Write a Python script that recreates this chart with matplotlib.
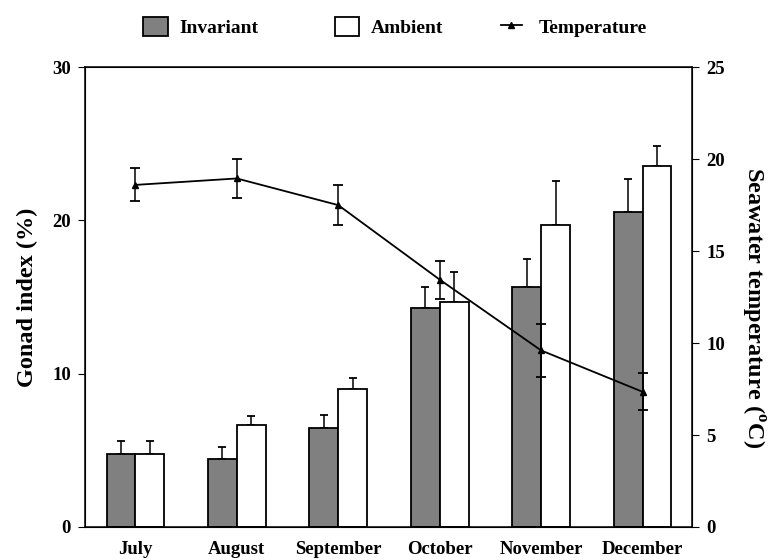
import matplotlib
matplotlib.use("Agg")
import matplotlib.pyplot as plt
import numpy as np
from matplotlib.patches import Patch
from matplotlib.lines import Line2D

months = ["July", "August", "September", "October", "November", "December"]
invariant = [4.76, 4.43, 6.43, 14.26, 15.65, 20.55]
invariant_err = [0.87, 0.79, 0.90, 1.37, 1.85, 2.15]
ambient = [4.76, 6.63, 9.00, 14.65, 19.70, 23.55]
ambient_err = [0.87, 0.61, 0.70, 1.98, 2.90, 1.32]
temperature = [18.6, 18.95, 17.5, 13.45, 9.6, 7.35]
temperature_err = [0.9, 1.05, 1.1, 1.03, 1.43, 1.0]
legend_labels = ["Invariant", "Ambient", "Temperature"]

plt.rcParams['font.family'] = ['Liberation Serif', 'DejaVu Serif']
plt.rcParams['font.weight'] = 'bold'
plt.rcParams['mathtext.fontset'] = 'custom'
plt.rcParams['mathtext.rm'] = 'Liberation Serif:bold'
plt.rcParams['mathtext.bf'] = 'Liberation Serif:bold'

fig = plt.figure(figsize=(7.7, 5.6), dpi=100)
ax = fig.add_axes([0.110, 0.059, 0.789, 0.821])

x = np.arange(len(months))
w = 0.285
ax.bar(x - w / 2, invariant, w, color="#808080", edgecolor="black", linewidth=1.3, zorder=2)
ax.bar(x + w / 2, ambient, w, color="white", edgecolor="black", linewidth=1.3, zorder=2)
ax.errorbar(x - w / 2, invariant, yerr=[np.zeros(len(x)), invariant_err], fmt="none",
            ecolor="black", elinewidth=1.1, capsize=3, capthick=1.3, zorder=1)
ax.errorbar(x + w / 2, ambient, yerr=[np.zeros(len(x)), ambient_err], fmt="none",
            ecolor="black", elinewidth=1.1, capsize=3, capthick=1.3, zorder=1)

ax.set_xlim(-0.5, 5.49)
ax.set_ylim(0, 30)
ax.set_yticks([0, 10, 20, 30])
ax.set_xticks(x)
ax.set_xticklabels(months)
ax.tick_params(axis="x", length=0, pad=10, labelsize=13.5)
ax.tick_params(axis="y", direction="out", length=5, labelsize=13.5, pad=5)
ax.set_ylabel("Gonad index (%)", fontsize=17.5, fontweight="bold", labelpad=10)
for s in ax.spines.values():
    s.set_linewidth(1.1)

ax2 = ax.twinx()
ax2.errorbar(x, temperature, yerr=temperature_err, fmt="-^", color="black", markersize=5,
             linewidth=1.3, elinewidth=1.1, capsize=3.5, capthick=1.3, zorder=5)
ax2.set_ylim(0, 25)
ax2.set_yticks([0, 5, 10, 15, 20, 25])
ax2.tick_params(axis="y", direction="out", length=5, labelsize=13.5, pad=5)
ax2.set_ylabel("Seawater temperature ($^\\mathrm{o}$C)", fontsize=17.5, fontweight="bold",
               rotation=270, labelpad=30)
ax2.yaxis.label.set_y(0.477)
for lab in ax.get_yticklabels() + ax2.get_yticklabels() + ax.get_xticklabels():
    lab.set_fontweight("bold")

handles = [Patch(facecolor="#808080", edgecolor="black", linewidth=1.3),
           Patch(facecolor="white", edgecolor="black", linewidth=1.3),
           Line2D([0], [0], color="black", marker="^", markersize=4, linewidth=1.3)]
anchors_x = [0.186, 0.435, 0.651]
hlens = [1.25, 1.25, 1.05]
tpads = [0.6, 0.6, 0.85]
for h, lab, ax_x, hl, tp in zip(handles, legend_labels, anchors_x, hlens, tpads):
    fig.legend([h], [lab], loc="center left", bbox_to_anchor=(ax_x, 0.952),
               frameon=False, borderpad=0, borderaxespad=0,
               handlelength=hl, handleheight=1.15, handletextpad=tp,
               prop={"weight": "bold", "size": 14})

fig.savefig("out.png", dpi=100)
